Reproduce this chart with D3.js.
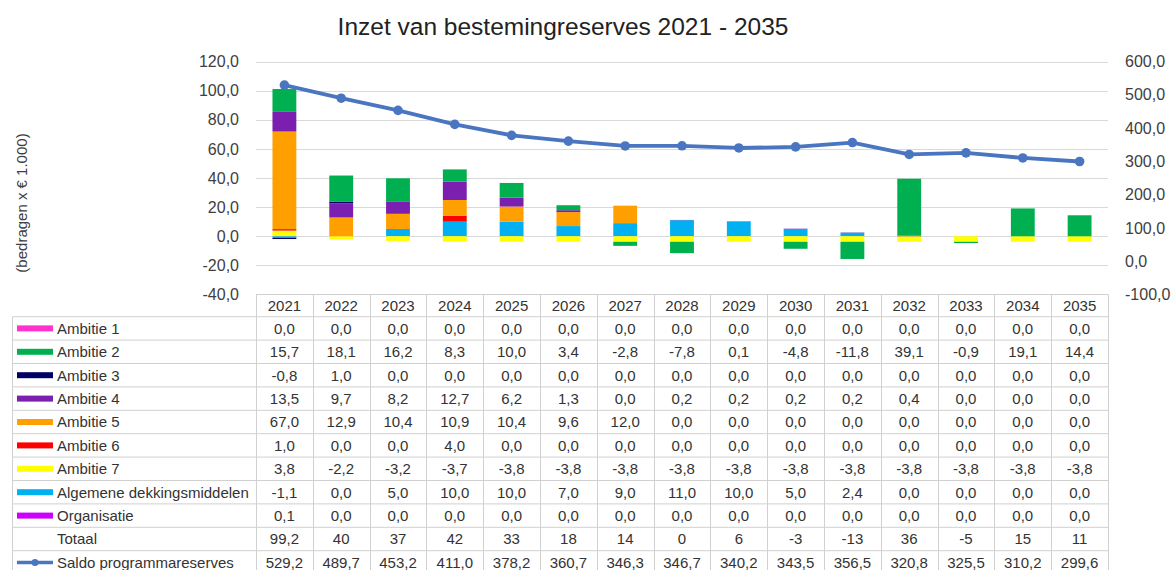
<!DOCTYPE html>
<html>
<head>
<meta charset="utf-8">
<script src="https://cdn.jsdelivr.net/npm/d3@7"></script>
<style>
  body { margin: 0; background: #fff; }
  text { font-family: "Liberation Sans", Arial, sans-serif; }
</style>
</head>
<body>
<svg id="chart" width="1171" height="570"></svg>
<script>
const years = ["2021","2022","2023","2024","2025","2026","2027","2028","2029","2030","2031","2032","2033","2034","2035"];
const seriesNames = ["Ambitie 1","Ambitie 2","Ambitie 3","Ambitie 4","Ambitie 5","Ambitie 6","Ambitie 7","Algemene dekkingsmiddelen","Organisatie"];
const seriesColors = ["#ff33cc","#00b050","#000066","#7a1fb0","#ffa000","#ff0000","#ffff00","#00b0f0","#cc00ff"];

const ambitie1 = [0,0,0,0,0,0,0,0,0,0,0,0,0,0,0];
const ambitie2 = [15.7,18.1,16.2,8.3,10.0,3.4,-2.8,-7.8,0.1,-4.8,-11.8,39.1,-0.9,19.1,14.4];
const ambitie3 = [-0.8,1.0,0,0,0,0,0,0,0,0,0,0,0,0,0];
const ambitie4 = [13.5,9.7,8.2,12.7,6.2,1.3,0.0,0.2,0.2,0.2,0.2,0.4,0,0,0];
const ambitie5 = [67.0,12.9,10.4,10.9,10.4,9.6,12.0,0,0,0,0,0,0,0,0];
const ambitie6 = [1.0,0,0,4.0,0,0,0,0,0,0,0,0,0,0,0];
const ambitie7 = [3.8,-2.2,-3.2,-3.7,-3.8,-3.8,-3.8,-3.8,-3.8,-3.8,-3.8,-3.8,-3.8,-3.8,-3.8];
const algemene = [-1.1,0,5.0,10.0,10.0,7.0,9.0,11.0,10.0,5.0,2.4,0,0,0,0];
const organisatie = [0.1,0,0,0,0,0,0,0,0,0,0,0,0,0,0];
const totaal = [99.2,40,37,42,33,18,14,0,6,-3,-13,36,-5,15,11];
const saldo = [529.2,489.7,453.2,411.0,378.2,360.7,346.3,346.7,340.2,343.5,356.5,320.8,325.5,310.2,299.6];

const leftTicks = [-40,-20,0,20,40,60,80,100,120];
const rightTicks = [-100,0,100,200,300,400,500,600];

const seriesValues = [ambitie1, ambitie2, ambitie3, ambitie4, ambitie5, ambitie6, ambitie7, algemene, organisatie];

const svg = d3.select("#chart");

const plotLeft = 256, plotRight = 1108, plotTop = 61.5, plotBottom = 294.5;

const x = d3.scaleBand().domain(years).range([plotLeft, plotRight]).paddingInner(0).paddingOuter(0);
const yL = d3.scaleLinear().domain([-40, 120]).range([plotBottom, plotTop]);
const yR = d3.scaleLinear().domain([-100, 600]).range([plotBottom, plotTop]);

const fmt1 = v => d3.format(".1f")(v).replace(".", ",").replace("−", "-");
const fmtTot = v => (Number.isInteger(v) ? String(v) : fmt1(v)).replace("−", "-");

// title
svg.append("text")
  .attr("x", 563).attr("y", 35)
  .attr("text-anchor", "middle")
  .attr("font-size", 24.5)
  .attr("fill", "#222")
  .text("Inzet van bestemingreserves 2021 - 2035");

// y axis title
svg.append("text")
  .attr("transform", "translate(27,203) rotate(-90)")
  .attr("text-anchor", "middle")
  .attr("font-size", 15)
  .attr("fill", "#404040")
  .text("(bedragen x € 1.000)");

// gridlines
svg.append("g")
  .selectAll("line")
  .data(leftTicks.filter(t => t > -40))
  .join("line")
  .attr("x1", plotLeft).attr("x2", plotRight)
  .attr("y1", d => Math.round(yL(d)) + 0.5).attr("y2", d => Math.round(yL(d)) + 0.5)
  .attr("stroke", "#d9d9d9").attr("stroke-width", 1);

// left axis
const axL = svg.append("g")
  .attr("transform", `translate(${plotLeft - 14},0)`)
  .call(d3.axisLeft(yL).tickValues(leftTicks).tickFormat(fmt1).tickSize(0));
axL.select(".domain").remove();
axL.selectAll("text").attr("font-size", 16).attr("fill", "#404040").attr("font-family", "Liberation Sans, Arial, sans-serif");

// right axis
const axR = svg.append("g")
  .attr("transform", `translate(${plotRight + 14},0)`)
  .call(d3.axisRight(yR).tickValues(rightTicks).tickFormat(fmt1).tickSize(0));
axR.select(".domain").remove();
axR.selectAll("text").attr("font-size", 16).attr("fill", "#404040").attr("font-family", "Liberation Sans, Arial, sans-serif");

// stacked bars (last series at the bottom, as in the source)
const rows = years.map((yr, i) => {
  const r = { year: yr };
  seriesNames.forEach((n, k) => r[n] = seriesValues[k][i]);
  return r;
});
const stack = d3.stack()
  .keys(seriesNames.slice().reverse())
  .offset(d3.stackOffsetDiverging);
const stacked = stack(rows);
const color = d3.scaleOrdinal().domain(seriesNames).range(seriesColors);

const bw = x.bandwidth() * 0.42;
svg.append("g")
  .selectAll("g")
  .data(stacked)
  .join("g")
  .attr("fill", d => color(d.key))
  .selectAll("rect")
  .data(d => d)
  .join("rect")
  .attr("x", d => x(d.data.year) + (x.bandwidth() - bw) / 2)
  .attr("width", bw)
  .attr("y", d => yL(Math.max(d[0], d[1])))
  .attr("height", d => Math.abs(yL(d[0]) - yL(d[1])));

// saldo line on right axis
const lineColor = "#4a75c0";
const line = d3.line()
  .x((d, i) => x(years[i]) + x.bandwidth() / 2)
  .y(d => yR(d));
svg.append("path")
  .datum(saldo)
  .attr("d", line)
  .attr("fill", "none")
  .attr("stroke", lineColor)
  .attr("stroke-width", 3.8)
  .attr("stroke-linejoin", "round");
svg.append("g")
  .selectAll("circle")
  .data(saldo)
  .join("circle")
  .attr("cx", (d, i) => x(years[i]) + x.bandwidth() / 2)
  .attr("cy", d => yR(d))
  .attr("r", 4.8)
  .attr("fill", lineColor);

// data table
const tableTop = 294.5, headH = 22.2, rowH = 23.4, legLeft = 12.5;
const table = svg.append("g").attr("font-size", 15).attr("fill", "#333");
const gridCol = "#d0d0d0";

const tableRows = seriesNames.map((n, k) => ({ name: n, color: seriesColors[k], vals: seriesValues[k].map(fmt1), kind: "bar" }));
tableRows.push({ name: "Totaal", color: null, vals: totaal.map(fmtTot), kind: "none" });
tableRows.push({ name: "Saldo programmareserves", color: lineColor, vals: saldo.map(fmt1), kind: "line" });

const bodyTop = tableTop + headH;
const bodyBottom = bodyTop + tableRows.length * rowH;

// header cells
table.append("line")
  .attr("x1", plotLeft).attr("x2", plotRight)
  .attr("y1", tableTop).attr("y2", tableTop)
  .attr("stroke", gridCol);
table.selectAll(".year")
  .data(years)
  .join("text")
  .attr("class", "year")
  .attr("x", d => x(d) + x.bandwidth() / 2)
  .attr("y", tableTop + headH / 2 + 5.5)
  .attr("text-anchor", "middle")
  .text(d => d);

// horizontal lines
table.selectAll(".hl")
  .data(d3.range(tableRows.length + 1))
  .join("line")
  .attr("class", "hl")
  .attr("x1", legLeft).attr("x2", plotRight)
  .attr("y1", i => bodyTop + i * rowH).attr("y2", i => bodyTop + i * rowH)
  .attr("stroke", gridCol);

// vertical lines
const vx = years.map(y => x(y)).concat([plotRight]);
table.selectAll(".vl")
  .data(vx)
  .join("line")
  .attr("class", "vl")
  .attr("x1", d => Math.round(d) + 0.5).attr("x2", d => Math.round(d) + 0.5)
  .attr("y1", tableTop).attr("y2", bodyBottom)
  .attr("stroke", gridCol);
table.append("line")
  .attr("x1", legLeft).attr("x2", legLeft)
  .attr("y1", bodyTop).attr("y2", bodyBottom)
  .attr("stroke", gridCol);

// row content
const rowG = table.selectAll(".row")
  .data(tableRows)
  .join("g")
  .attr("class", "row")
  .attr("transform", (d, i) => `translate(0,${bodyTop + i * rowH})`);

rowG.filter(d => d.kind === "bar")
  .append("rect")
  .attr("x", 17).attr("y", rowH / 2 - 3)
  .attr("width", 36).attr("height", 6)
  .attr("fill", d => d.color);

const legLine = rowG.filter(d => d.kind === "line");
legLine.append("line")
  .attr("x1", 17).attr("x2", 53)
  .attr("y1", rowH / 2).attr("y2", rowH / 2)
  .attr("stroke", d => d.color).attr("stroke-width", 3.5);
legLine.append("circle")
  .attr("cx", 35).attr("cy", rowH / 2).attr("r", 3.5)
  .attr("fill", d => d.color);

rowG.append("text")
  .attr("x", 57).attr("y", rowH / 2 + 5.5)
  .text(d => d.name);

rowG.selectAll(".val")
  .data(d => d.vals)
  .join("text")
  .attr("class", "val")
  .attr("x", (d, i) => x(years[i]) + x.bandwidth() / 2)
  .attr("y", rowH / 2 + 5.5)
  .attr("text-anchor", "middle")
  .text(d => d);
</script>
</body>
</html>
